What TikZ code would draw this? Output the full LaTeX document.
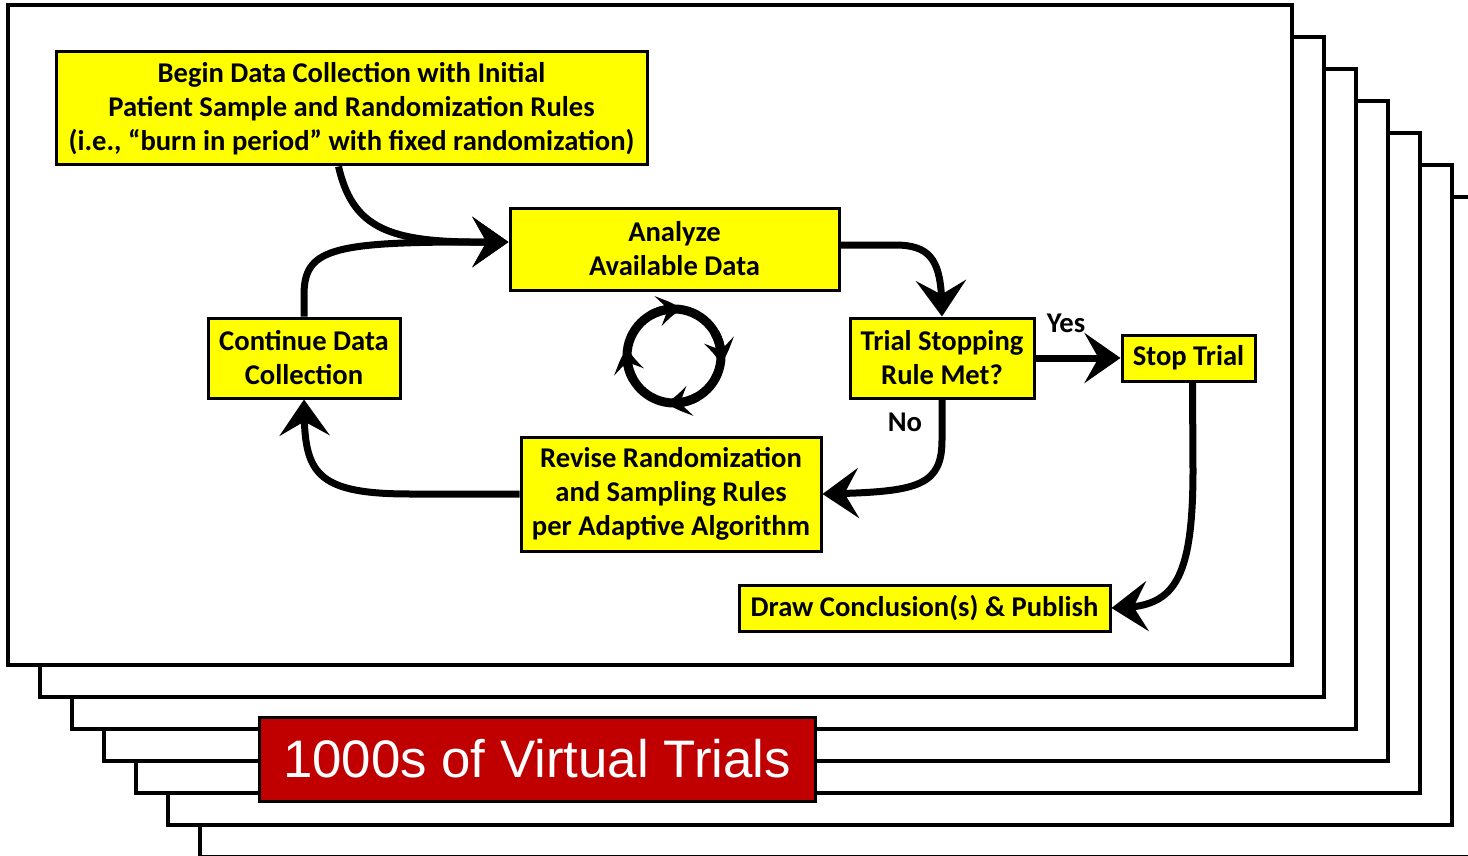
\documentclass[tikz,border=0pt]{standalone}
\usepackage{fontspec}
\setmainfont{Carlito}
\newfontfamily\arialfont{Liberation Sans}
\usetikzlibrary{arrows.meta,bending}
\definecolor{boxyellow}{HTML}{FFFF00}
\definecolor{boxred}{HTML}{C00000}
\begin{document}
\begin{tikzpicture}[x=0.5pt,y=-0.5pt,
  page/.style={draw=black, line width=2pt, fill=white},
  ybox/.style={draw=black, line width=1.5pt, fill=boxyellow, inner sep=0pt, align=center, font=\fontsize{14.3}{17}\selectfont\bfseries},
  lab/.style={inner sep=0pt, font=\fontsize{14.3}{17}\selectfont\bfseries},
  flow/.style={line width=3.5pt, -{Stealth[length=18pt,width=25pt,inset=7pt]}},
  cyc/.style={line width=4.5pt, -{Stealth[length=12pt,width=15pt,inset=5pt,bend]}},
  redbox/.style={draw=black, line width=1.5pt, fill=boxred, inner sep=0pt, text=white, font=\arialfont\fontsize{26.4}{30}\selectfont}
]
\useasboundingbox (0,0) rectangle (1468,856);
\foreach \k in {6,5,...,0} {
  \draw[page] (8+32*\k,5+32*\k) rectangle (1292+32*\k,665+32*\k);
}
\node[redbox, minimum width=278pt, minimum height=42pt] (red) at (537,759) {1000s of Virtual Trials};

\node[ybox, minimum width=295.5pt, minimum height=56.5pt] (begin) at (351.5,108.5) {Begin Data Collection with Initial\\Patient Sample and Randomization Rules\\(i.e., “burn in period” with fixed randomization)};
\node[ybox, minimum width=164.5pt, minimum height=41pt] (analyze) at (674.5,249) {Analyze\\Available Data};
\node[ybox, minimum width=96pt, minimum height=40pt] (continue) at (304,358) {Continue Data\\Collection};
\node[ybox, minimum width=92pt, minimum height=40pt] (trial) at (942,358) {Trial Stopping\\Rule Met?};
\node[ybox, minimum width=66.5pt, minimum height=23pt] (stop) at (1188.5,358) {Stop Trial};
\node[ybox, minimum width=150pt, minimum height=57pt] (revise) at (671,494) {Revise Randomization\\and Sampling Rules\\per Adaptive Algorithm};
\node[ybox, minimum width=185.5pt, minimum height=23pt] (draw) at (924.5,608) {Draw Conclusion(s) \& Publish};

\node[lab] (yes) at (1066,323) {Yes};
\node[lab] (no) at (905,422) {No};

\draw[flow] ([xshift=-6.5pt]begin.south) .. controls (352,225) and (385,241) .. (470,242) -- ([yshift=3.5pt]analyze.west);
\draw[flow] (continue.north) -- (304,295) .. controls (304,250) and (330,242) .. (470,242) -- ([yshift=3.5pt]analyze.west);
\draw[flow] ([yshift=2pt]analyze.east) -- (895,245) .. controls (935,245) and (942,265) .. (trial.north);
\draw[flow] (trial.east) -- (stop.west);
\draw[flow] (trial.south) -- (942,440) .. controls (942,488) and (915,492) .. (revise.east);
\draw[flow] (revise.west) -- (410,494) .. controls (310,494) and (304,470) .. (continue.south);
\draw[flow] ([xshift=2pt]stop.south) -- (1193,470) .. controls (1193,590) and (1170,608) .. (draw.east);

\draw[line width=4.5pt] (674,356) circle[radius=23.5pt];
\foreach \a in {170,80,-10,-100} {
  \draw[cyc] ([shift={(\a+40:23.5pt)}]674,356) arc[start angle=\a+40, end angle=\a, radius=23.5pt];
}
\end{tikzpicture}
\end{document}
